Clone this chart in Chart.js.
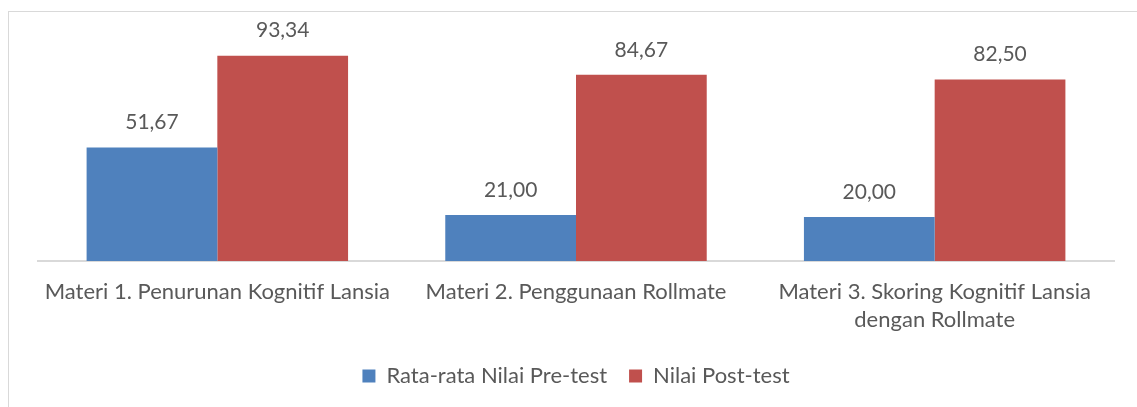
<!DOCTYPE html>
<html>
<head>
<meta charset="utf-8">
<script src="https://cdn.jsdelivr.net/npm/chart.js@4/dist/chart.umd.min.js"></script>
<style>
    html, body { margin: 0; padding: 0; background: #fff; overflow: hidden; }
    #frame {
        position: absolute; left: 8px; top: 11px;
        width: 1150px; height: 420px;
        border: 1px solid #d9d9d9; box-sizing: border-box;
    }
    #wrap { position: absolute; left: 0; top: 0; width: 1137px; height: 407px; }
</style>
</head>
<body>
<div id="frame"></div>
<div id="wrap"><canvas id="bars"></canvas></div>
<script>
// Chart data
const categories = [
    'Materi 1. Penurunan Kognitif Lansia',
    'Materi 2. Penggunaan Rollmate',
    ['Materi 3. Skoring Kognitif Lansia', 'dengan Rollmate']
];
const preTest = [51.67, 21.00, 20.00];
const postTest = [93.34, 84.67, 82.50];
const seriesNames = ['Rata-rata Nilai Pre-test', 'Nilai Post-test'];

const textColor = '#595959';
const fontFamily = 'Lato, "Open Sans", sans-serif';

// Draws the value above each bar, with a comma as decimal mark
const valueLabels = {
    id: 'valueLabels',
    afterDatasetsDraw(chart) {
        const ctx = chart.ctx;
        ctx.save();
        ctx.fillStyle = textColor;
        ctx.font = '21px ' + fontFamily;
        ctx.textAlign = 'center';
        ctx.textBaseline = 'middle';
        chart.data.datasets.forEach((ds, i) => {
            chart.getDatasetMeta(i).data.forEach((bar, j) => {
                const txt = ds.data[j].toFixed(2).replace('.', ',');
                ctx.fillText(txt, bar.x, bar.y - 25);
            });
        });
        ctx.restore();
    }
};

document.addEventListener('DOMContentLoaded', function() {
    const ctx = document.getElementById('bars').getContext('2d');
    new Chart(ctx, {
        type: 'bar',
        data: {
            labels: categories,
            datasets: [{
                label: seriesNames[0],
                data: preTest,
                backgroundColor: '#4f81bd'
            }, {
                label: seriesNames[1],
                data: postTest,
                backgroundColor: '#c0504d'
            }]
        },
        options: {
            responsive: true,
            maintainAspectRatio: false,
            animation: false,
            categoryPercentage: 0.729,
            barPercentage: 1,
            layout: {
                padding: { left: 38, right: 23, top: 41, bottom: 10 }
            },
            plugins: {
                legend: {
                    position: 'bottom',
                    labels: {
                        color: textColor,
                        font: { size: 22, family: fontFamily },
                        boxWidth: 13,
                        boxHeight: 13,
                        padding: 22
                    }
                },
                tooltip: { enabled: false }
            },
            scales: {
                x: {
                    grid: { display: false },
                    border: { display: true, color: '#d9d9d9', width: 2 },
                    ticks: {
                        color: textColor,
                        font: { size: 22, family: fontFamily, lineHeight: 1.27 },
                        maxRotation: 0,
                        padding: 9
                    }
                },
                y: {
                    display: false,
                    min: 0,
                    max: 100
                }
            }
        },
        plugins: [valueLabels]
    });
});
</script>
</body>
</html>
